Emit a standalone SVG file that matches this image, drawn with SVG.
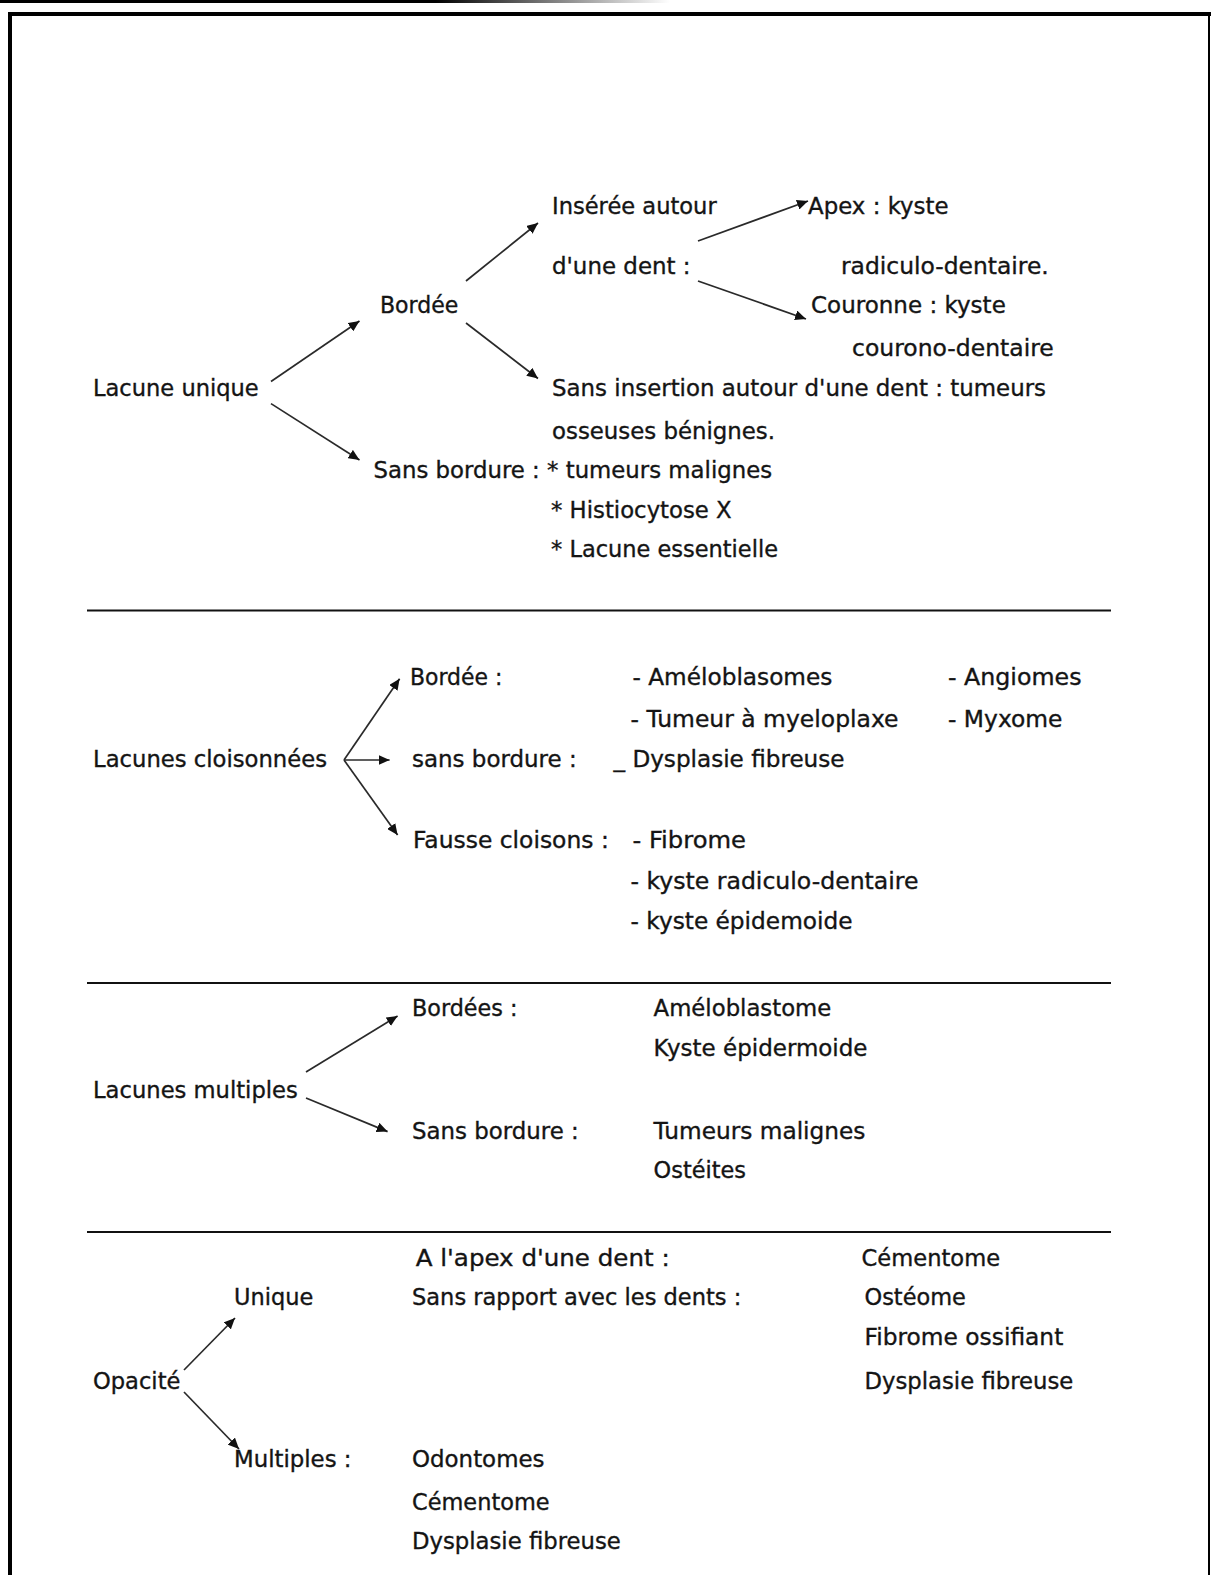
<svg xmlns="http://www.w3.org/2000/svg" width="1211" height="1575" viewBox="0 0 1211 1575">
<style>
text{font-family:"DejaVu Sans","Liberation Sans",sans-serif;font-size:22.5px;fill:#141414;stroke:#141414;stroke-width:0.35}
.c line{stroke:#2a2a2a;stroke-width:1.7;marker-end:url(#ah)}
.sep{stroke:#111;stroke-width:2}
</style>
<defs>
<linearGradient id="tg" x1="0" y1="0" x2="1" y2="0">
<stop offset="0" stop-color="#000"/><stop offset="0.65" stop-color="#000"/><stop offset="1" stop-color="#fff"/>
</linearGradient>
<marker id="ah" markerUnits="userSpaceOnUse" markerWidth="12" markerHeight="10" refX="11" refY="5" orient="auto">
<path d="M0,0 L11,5 L0,10 Z" fill="#111"/>
</marker>
</defs>
<rect width="1211" height="1575" fill="#fff"/>
<g id="frame">
<rect x="0" y="0" width="670" height="3" fill="url(#tg)"/>
<rect x="8" y="12" width="1203" height="4" fill="#000"/>
<rect x="8" y="12" width="4" height="1563" fill="#000"/>
<rect x="1208" y="12" width="2" height="1563" fill="#000"/>
</g>
<g id="separators">
<line class="sep" x1="87" y1="610.5" x2="1111" y2="610.5"/>
<line class="sep" x1="87" y1="983" x2="1111" y2="983"/>
<line class="sep" x1="87" y1="1232" x2="1111" y2="1232"/>
</g>
<g class="c" id="connectors">
<line x1="271" y1="381.5" x2="359.5" y2="321"/>
<line x1="271" y1="403.6" x2="359.5" y2="460"/>
<line x1="466" y1="281" x2="538" y2="223"/>
<line x1="466" y1="323" x2="538" y2="378.5"/>
<line x1="698" y1="241" x2="808" y2="201"/>
<line x1="698" y1="281" x2="806" y2="319"/>
<line x1="344" y1="760" x2="399.6" y2="678.8"/>
<line x1="344" y1="760" x2="389.6" y2="760"/>
<line x1="344" y1="760" x2="397.6" y2="835"/>
<line x1="306" y1="1072" x2="397.6" y2="1016"/>
<line x1="306" y1="1098" x2="387.6" y2="1131.6"/>
<line x1="184" y1="1370" x2="235" y2="1318"/>
<line x1="184" y1="1392" x2="239" y2="1449"/>
</g>
<g id="lacune-unique"><text x="93" y="396" textLength="165.7" lengthAdjust="spacingAndGlyphs">Lacune unique</text></g>
<g id="bordee-1"><text x="380" y="313" textLength="78.3" lengthAdjust="spacingAndGlyphs">Bordée</text></g>
<g id="inseree"><text x="552" y="214" textLength="164.7" lengthAdjust="spacingAndGlyphs">Insérée autour</text><text x="552" y="274" textLength="138.6" lengthAdjust="spacingAndGlyphs">d'une dent :</text></g>
<g id="apex"><text x="808" y="214" textLength="140.6" lengthAdjust="spacingAndGlyphs">Apex : kyste</text><text x="841" y="274" textLength="207.8" lengthAdjust="spacingAndGlyphs">radiculo-dentaire.</text></g>
<g id="couronne"><text x="811" y="313" textLength="194.8" lengthAdjust="spacingAndGlyphs">Couronne : kyste</text><text x="852" y="356" textLength="201.8" lengthAdjust="spacingAndGlyphs">courono-dentaire</text></g>
<g id="sans-insertion"><text x="552" y="396" textLength="494" lengthAdjust="spacingAndGlyphs">Sans insertion autour d'une dent : tumeurs</text><text x="552" y="439" textLength="223" lengthAdjust="spacingAndGlyphs">osseuses bénignes.</text></g>
<g id="sans-bordure-1"><text x="373.5" y="478" textLength="398.6" lengthAdjust="spacingAndGlyphs">Sans bordure : * tumeurs malignes</text><text x="551" y="518" textLength="180.7" lengthAdjust="spacingAndGlyphs">* Histiocytose X</text><text x="551" y="557" textLength="227" lengthAdjust="spacingAndGlyphs">* Lacune essentielle</text></g>
<g id="lacunes-cloisonnees"><text x="93" y="767" textLength="234" lengthAdjust="spacingAndGlyphs">Lacunes cloisonnées</text></g>
<g id="bordee-2"><text x="410" y="685" textLength="92.4" lengthAdjust="spacingAndGlyphs">Bordée :</text><text x="632.5" y="685" textLength="199.8" lengthAdjust="spacingAndGlyphs">- Améloblasomes</text><text x="630.5" y="727" textLength="268" lengthAdjust="spacingAndGlyphs">- Tumeur à myeloplaxe</text><text x="948" y="685" textLength="133.5" lengthAdjust="spacingAndGlyphs">- Angiomes</text><text x="948" y="727" textLength="114.5" lengthAdjust="spacingAndGlyphs">- Myxome</text></g>
<g id="sans-bordure-2"><text x="412" y="767" textLength="164.7" lengthAdjust="spacingAndGlyphs">sans bordure :</text><text x="613.5" y="767" textLength="231" lengthAdjust="spacingAndGlyphs">_ Dysplasie fibreuse</text></g>
<g id="fausse-cloisons"><text x="413" y="848" textLength="195.8" lengthAdjust="spacingAndGlyphs">Fausse cloisons :</text><text x="632.5" y="848" textLength="113.5" lengthAdjust="spacingAndGlyphs">- Fibrome</text><text x="630.5" y="889" textLength="288" lengthAdjust="spacingAndGlyphs">- kyste radiculo-dentaire</text><text x="630.5" y="929" textLength="222" lengthAdjust="spacingAndGlyphs">- kyste épidemoide</text></g>
<g id="lacunes-multiples"><text x="93" y="1098" textLength="204.8" lengthAdjust="spacingAndGlyphs">Lacunes multiples</text></g>
<g id="bordees-3"><text x="412" y="1016" textLength="105.4" lengthAdjust="spacingAndGlyphs">Bordées :</text><text x="653.6" y="1016" textLength="177.7" lengthAdjust="spacingAndGlyphs">Améloblastome</text><text x="653.6" y="1056" textLength="213.9" lengthAdjust="spacingAndGlyphs">Kyste épidermoide</text></g>
<g id="sans-bordure-3"><text x="412" y="1139" textLength="166.7" lengthAdjust="spacingAndGlyphs">Sans bordure :</text><text x="653.6" y="1139" textLength="211.9" lengthAdjust="spacingAndGlyphs">Tumeurs malignes</text><text x="653.6" y="1178" textLength="92.4" lengthAdjust="spacingAndGlyphs">Ostéites</text></g>
<g id="opacite"><text x="93" y="1389" textLength="87.4" lengthAdjust="spacingAndGlyphs">Opacité</text></g>
<g id="unique"><text x="234" y="1305" textLength="79.3" lengthAdjust="spacingAndGlyphs">Unique</text></g>
<g id="apex-dent"><text x="415.7" y="1266" textLength="254" lengthAdjust="spacingAndGlyphs">A l'apex d'une dent :</text><text x="861.5" y="1266" textLength="138.6" lengthAdjust="spacingAndGlyphs">Cémentome</text></g>
<g id="sans-rapport"><text x="412" y="1305" textLength="329.3" lengthAdjust="spacingAndGlyphs">Sans rapport avec les dents :</text><text x="864.5" y="1305" textLength="101.4" lengthAdjust="spacingAndGlyphs">Ostéome</text><text x="864.5" y="1345" textLength="198.8" lengthAdjust="spacingAndGlyphs">Fibrome ossifiant</text><text x="864.5" y="1389" textLength="208.8" lengthAdjust="spacingAndGlyphs">Dysplasie fibreuse</text></g>
<g id="multiples"><text x="234" y="1467" textLength="117.5" lengthAdjust="spacingAndGlyphs">Multiples :</text><text x="412" y="1467" textLength="132.5" lengthAdjust="spacingAndGlyphs">Odontomes</text><text x="412" y="1510" textLength="137.6" lengthAdjust="spacingAndGlyphs">Cémentome</text><text x="412" y="1549" textLength="208.8" lengthAdjust="spacingAndGlyphs">Dysplasie fibreuse</text></g>
</svg>
